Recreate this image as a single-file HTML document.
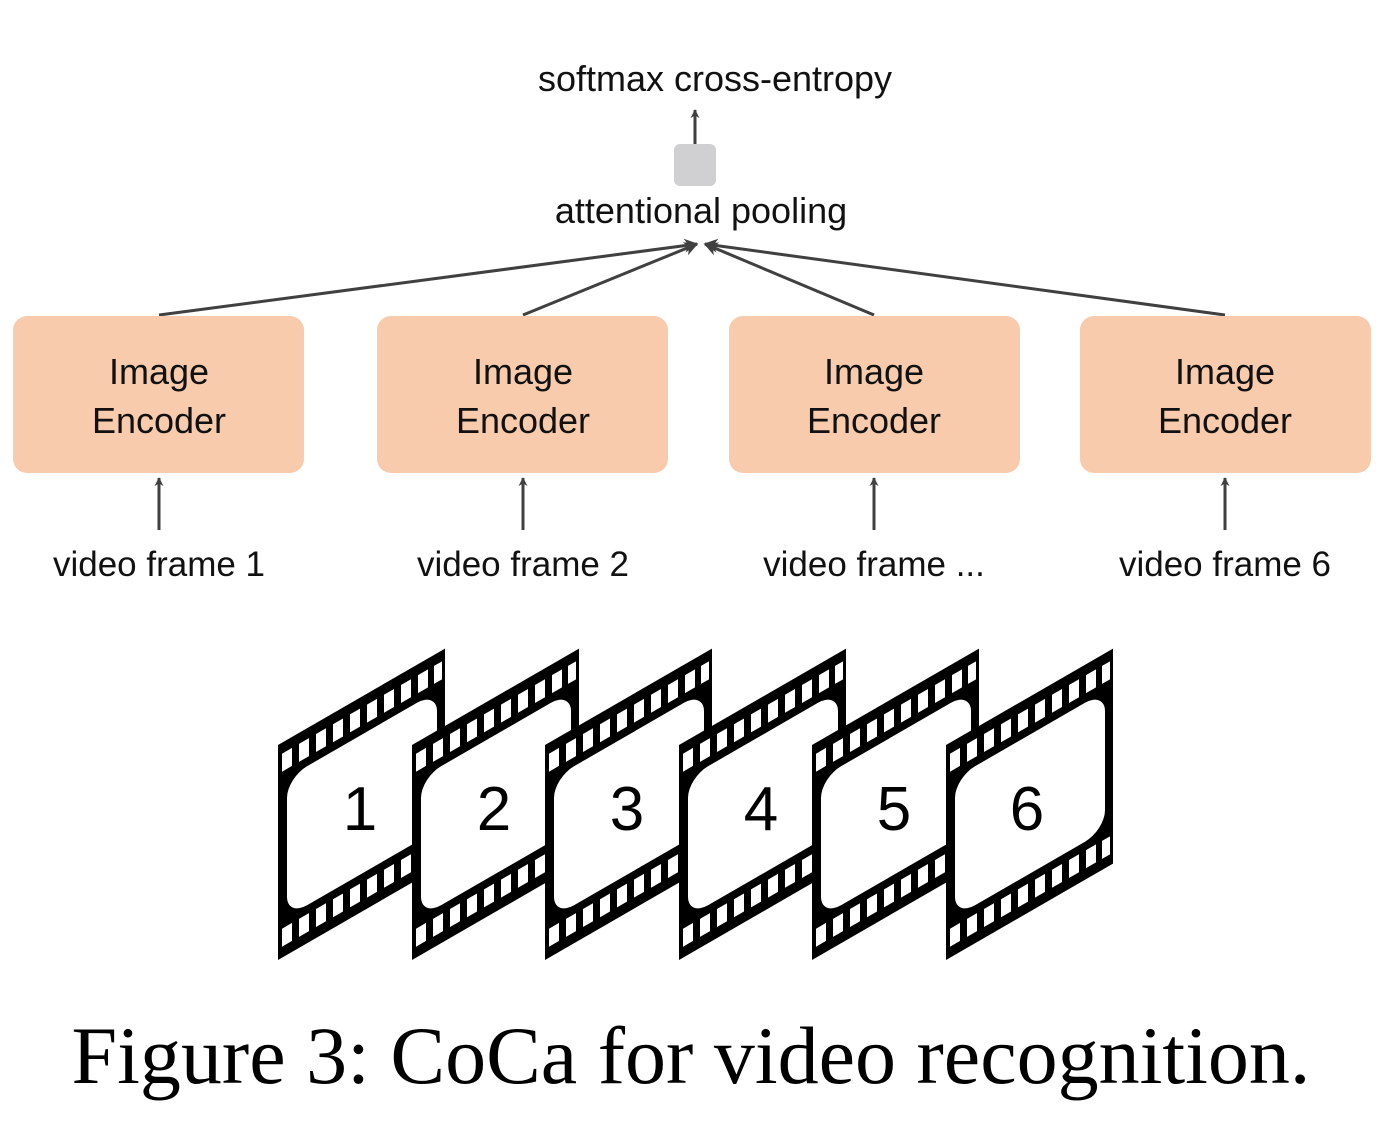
<html><body style="margin:0;width:1382px;height:1132px;background:#fff;overflow:hidden">
<svg width="1382" height="1132" xmlns="http://www.w3.org/2000/svg" style="position:absolute;left:0;top:0">
<defs>
<marker id="ah" viewBox="0 0 10 10" refX="9" refY="5" markerWidth="9" markerHeight="9" orient="auto" markerUnits="userSpaceOnUse"><path d="M0,0 L10,5 L0,10 L3,5 z" fill="#404040"/></marker>
<marker id="ah2" viewBox="0 0 10 10" refX="9" refY="5" markerWidth="14" markerHeight="14" orient="auto" markerUnits="userSpaceOnUse"><path d="M0,0 L10,5 L0,10 L3,5 z" fill="#404040"/></marker>
<g id="film">
<rect x="0" y="0" width="167" height="215" fill="#000"/>
<rect x="9" y="38" width="150" height="139" rx="20" fill="#fff"/>
<g fill="#fff">
<rect x="4" y="11" width="10" height="18"/><rect x="21" y="11" width="10" height="18"/><rect x="38" y="11" width="10" height="18"/><rect x="55" y="11" width="10" height="18"/><rect x="72" y="11" width="10" height="18"/><rect x="89" y="11" width="10" height="18"/><rect x="106" y="11" width="10" height="18"/><rect x="123" y="11" width="10" height="18"/><rect x="140" y="11" width="10" height="18"/><rect x="156" y="11" width="8" height="18"/>
<rect x="4" y="186" width="10" height="18"/><rect x="21" y="186" width="10" height="18"/><rect x="38" y="186" width="10" height="18"/><rect x="55" y="186" width="10" height="18"/><rect x="72" y="186" width="10" height="18"/><rect x="89" y="186" width="10" height="18"/><rect x="106" y="186" width="10" height="18"/><rect x="123" y="186" width="10" height="18"/><rect x="140" y="186" width="10" height="18"/><rect x="156" y="186" width="8" height="18"/>
</g>
</g>
</defs>
<g stroke="#404040" stroke-width="3" fill="none">
<line x1="159" y1="315" x2="697" y2="244" marker-end="url(#ah2)"/>
<line x1="523" y1="315" x2="697" y2="244" marker-end="url(#ah2)"/>
<line x1="874" y1="315" x2="705" y2="244" marker-end="url(#ah2)"/>
<line x1="1225" y1="315" x2="705" y2="244" marker-end="url(#ah2)"/>
<line x1="695" y1="145" x2="695" y2="110" marker-end="url(#ah)"/>
<line x1="159" y1="530" x2="159" y2="478" marker-end="url(#ah)"/>
<line x1="523" y1="530" x2="523" y2="478" marker-end="url(#ah)"/>
<line x1="874" y1="530" x2="874" y2="478" marker-end="url(#ah)"/>
<line x1="1225" y1="530" x2="1225" y2="478" marker-end="url(#ah)"/>
</g>
<rect x="674" y="144" width="42" height="42" rx="6" fill="#d0cfd1"/>
<g fill="#f8cbad">
<rect x="13" y="316" width="291" height="157" rx="14"/>
<rect x="377" y="316" width="291" height="157" rx="14"/>
<rect x="729" y="316" width="291" height="157" rx="14"/>
<rect x="1080" y="316" width="291" height="157" rx="14"/>
</g>
<g font-family="Liberation Sans, sans-serif" font-size="36" fill="#111" text-anchor="middle">
<text x="715" y="91">softmax cross-entropy</text>
<text x="701" y="223">attentional pooling</text>
<text x="159" y="384">Image</text><text x="159" y="433">Encoder</text>
<text x="523" y="384">Image</text><text x="523" y="433">Encoder</text>
<text x="874" y="384">Image</text><text x="874" y="433">Encoder</text>
<text x="1225" y="384">Image</text><text x="1225" y="433">Encoder</text>
</g>
<g font-family="Liberation Sans, sans-serif" font-size="35" fill="#111" text-anchor="middle">
<text x="159" y="576">video frame 1</text>
<text x="523" y="576">video frame 2</text>
<text x="874" y="576">video frame ...</text>
<text x="1225" y="576">video frame 6</text>
</g>
<g font-family="Liberation Sans, sans-serif" font-size="62" fill="#000" text-anchor="middle">
<use href="#film" transform="translate(278,745) skewY(-30)"/><text x="360" y="830">1</text>
<use href="#film" transform="translate(412,745) skewY(-30)"/><text x="494" y="830">2</text>
<use href="#film" transform="translate(545,745) skewY(-30)"/><text x="627" y="830">3</text>
<use href="#film" transform="translate(679,745) skewY(-30)"/><text x="761" y="830">4</text>
<use href="#film" transform="translate(812,745) skewY(-30)"/><text x="894" y="830">5</text>
<use href="#film" transform="translate(946,745) skewY(-30)"/><text x="1027" y="830">6</text>
</g>
<text x="691" y="1083" font-family="Liberation Serif, serif" font-size="82" fill="#000" text-anchor="middle">Figure 3: CoCa for video recognition.</text>
</svg>
</body></html>
